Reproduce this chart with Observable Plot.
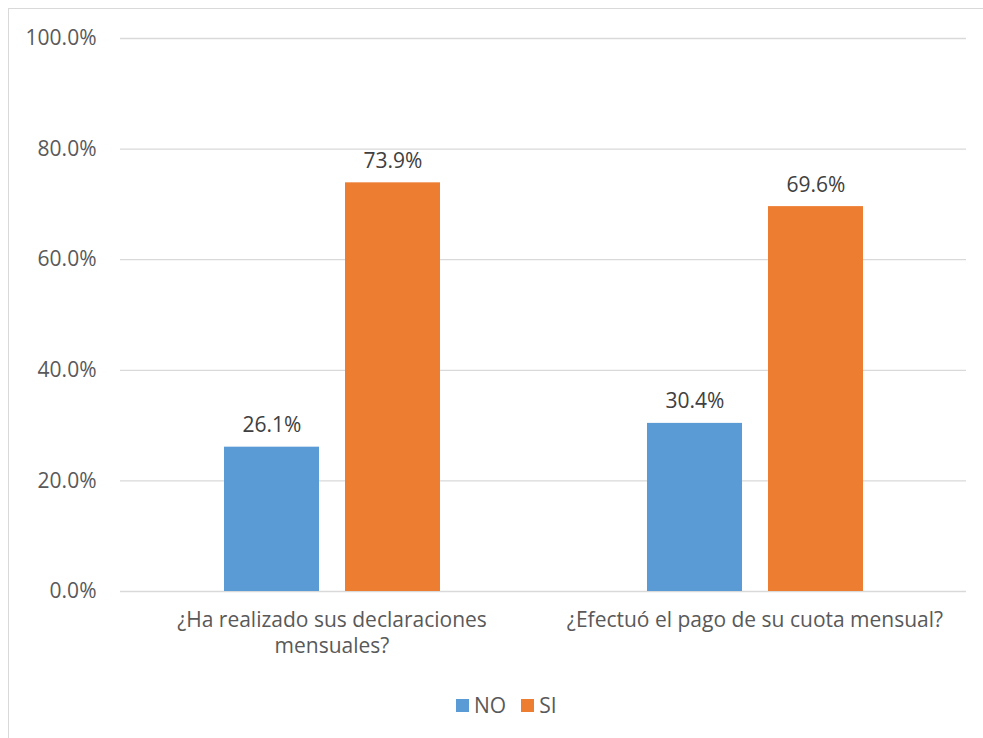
<!DOCTYPE html>
<html><head><meta charset="utf-8">
<script src="https://cdn.jsdelivr.net/npm/d3@7"></script>
<script src="https://cdn.jsdelivr.net/npm/@observablehq/plot@0.6"></script>
<style>
body{margin:0;background:#fff;font-family:"Open Sans",sans-serif;}
#frame{position:absolute;left:8px;top:8px;width:990px;height:740px;border:1px solid #d9d9d9;box-sizing:border-box;}
#chart{position:absolute;left:0;top:0;}
#legend{position:absolute;top:691px;left:456px;display:flex;align-items:center;font-size:21px;color:#595959;white-space:nowrap;}
#legend .sw{display:inline-block;width:13px;height:13px;margin-right:5px;}
#legend .item{display:flex;align-items:center;margin-right:15px;}
</style></head>
<body>
<div id="frame"></div>
<div id="chart"></div>
<div id="legend"></div>
<script>
const categories = ["¿Ha realizado sus declaraciones\nmensuales?", "¿Efectuó el pago de su cuota mensual?"];
const series = ["NO", "SI"];
const noValues = [0.261, 0.304];
const siValues = [0.739, 0.696];
const colors = ["#5b9bd5", "#ed7d31"];
const yTicks = [0, 0.2, 0.4, 0.6, 0.8, 1.0];

const data = [];
categories.forEach((c, i) => {
  data.push({category: c, series: "NO", value: noValues[i]});
  data.push({category: c, series: "SI", value: siValues[i]});
});

const chart = Plot.plot({
  width: 983,
  height: 680,
  marginLeft: 120,
  marginRight: 17,
  marginTop: 38,
  marginBottom: 89,
  style: {fontFamily: "'Open Sans', sans-serif", fontSize: "21px", color: "#595959", background: "transparent"},
  fx: {domain: categories, padding: 0, label: null},
  x: {domain: series, paddingInner: 0.215, paddingOuter: 0.855, axis: null},
  y: {domain: [0, 1], label: null},
  color: {domain: series, range: colors},
  marks: [
    Plot.gridY(yTicks, {stroke: "#d9d9d9", strokeOpacity: 1, strokeWidth: 1.3}),
    Plot.axisY({ticks: yTicks, tickFormat: d3.format(".1%"), tickSize: 0, tickPadding: 24, label: null, fill: "#595959"}),
    Plot.axisFx({anchor: "bottom", tickSize: 0, tickPadding: 17, label: null, fill: "#595959", lineHeight: 1.25}),
    Plot.barY(data, {fx: "category", x: "series", y: "value", fill: "series"}),
    Plot.text(data, {fx: "category", x: "series", y: "value", text: d => d3.format(".1%")(d.value), dy: -15, lineAnchor: "bottom", fill: "#404040"})
  ]
});
document.getElementById("chart").appendChild(chart);

const legend = document.getElementById("legend");
series.forEach((s, i) => {
  const item = document.createElement("div");
  item.className = "item";
  const sw = document.createElement("span");
  sw.className = "sw";
  sw.style.background = colors[i];
  item.appendChild(sw);
  item.appendChild(document.createTextNode(s));
  legend.appendChild(item);
});
</script>
</body></html>
